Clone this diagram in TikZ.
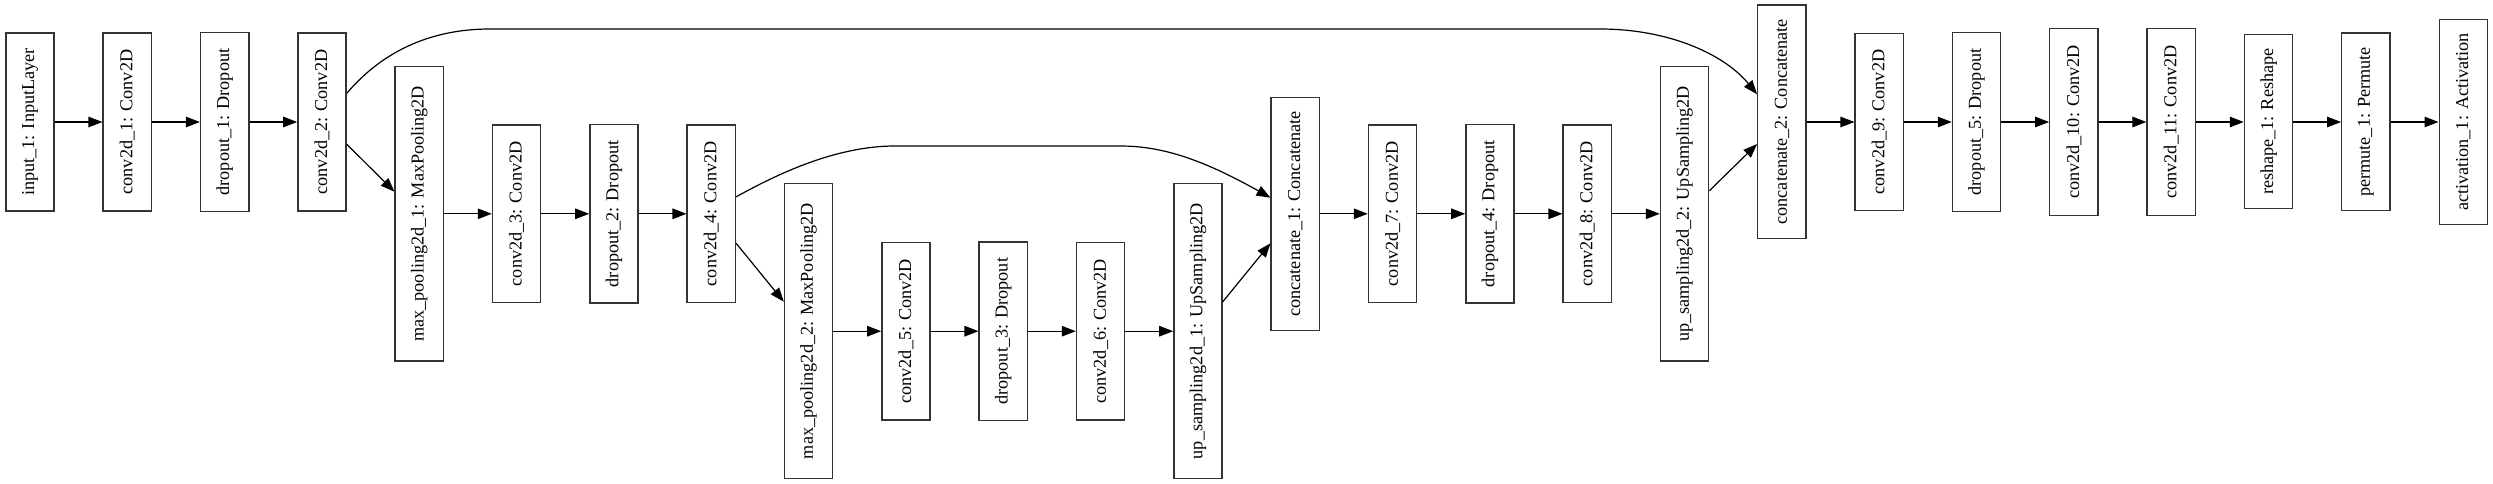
\documentclass[tikz,border=0pt]{standalone}
\usepackage{fontspec}
\setmainfont{Liberation Serif}
\usepackage{graphicx}
\usetikzlibrary{arrows.meta,calc}
\definecolor{boxc}{HTML}{333333}
\begin{document}
\begin{tikzpicture}[x=1pt,y=-1pt,
  layer/.style={draw=boxc, line width=1.35pt, minimum width=48.3pt, inner sep=0pt,
    font=\fontsize{18.2}{20}\selectfont, fill=white},
  conn/.style={draw=black, line width=1.2pt, -{Triangle[length=14pt,width=10.5pt]}}]
\fill[white] (0,0) rectangle (2493,484);
\useasboundingbox (0,0) rectangle (2493,484);
% row 1
\node[layer, minimum height=177.7pt] (in)   at (30,122)     {\rotatebox{90}{input\_1: InputLayer}};
\node[layer, minimum height=178pt]   (c1)   at (127.3,122)  {\rotatebox{90}{conv2d\_1: Conv2D}};
\node[layer, minimum height=178.6pt] (d1)   at (224.7,122)  {\rotatebox{90}{dropout\_1: Dropout}};
\node[layer, minimum height=178pt]   (c2)   at (322,122)    {\rotatebox{90}{conv2d\_2: Conv2D}};
% row 2
\node[layer, minimum height=294.3pt] (mp1)  at (419.3,213.8) {\rotatebox{90}{max\_pooling2d\_1: MaxPooling2D}};
\node[layer, minimum height=177.7pt] (c3)   at (516.6,213.8) {\rotatebox{90}{conv2d\_3: Conv2D}};
\node[layer, minimum height=178.3pt] (d2)   at (614,213.8)   {\rotatebox{90}{dropout\_2: Dropout}};
\node[layer, minimum height=177.7pt] (c4)   at (711.3,213.8) {\rotatebox{90}{conv2d\_4: Conv2D}};
% row 3
\node[layer, minimum height=295pt]   (mp2)  at (808.6,331.2) {\rotatebox{90}{max\_pooling2d\_2: MaxPooling2D}};
\node[layer, minimum height=177.7pt] (c5)   at (906,331.2)   {\rotatebox{90}{conv2d\_5: Conv2D}};
\node[layer, minimum height=178.7pt] (d3)   at (1003.3,331.2) {\rotatebox{90}{dropout\_3: Dropout}};
\node[layer, minimum height=177.7pt] (c6)   at (1100.6,331.2) {\rotatebox{90}{conv2d\_6: Conv2D}};
\node[layer, minimum height=295pt]   (up1)  at (1198,331.2)  {\rotatebox{90}{up\_sampling2d\_1: UpSampling2D}};
% row 2 again
\node[layer, minimum height=233.4pt] (cat1) at (1295.3,214)  {\rotatebox{90}{concatenate\_1: Concatenate}};
\node[layer, minimum height=177.7pt] (c7)   at (1392.6,213.8) {\rotatebox{90}{conv2d\_7: Conv2D}};
\node[layer, minimum height=178.3pt] (d4)   at (1490,213.8)  {\rotatebox{90}{dropout\_4: Dropout}};
\node[layer, minimum height=177.7pt] (c8)   at (1587.3,213.8) {\rotatebox{90}{conv2d\_8: Conv2D}};
\node[layer, minimum height=294.3pt] (up2)  at (1684.6,213.8) {\rotatebox{90}{up\_sampling2d\_2: UpSampling2D}};
% row 1 again
\node[layer, minimum height=233.7pt] (cat2) at (1781.9,121.8) {\rotatebox{90}{concatenate\_2: Concatenate}};
\node[layer, minimum height=177.4pt] (c9)   at (1879.3,122)  {\rotatebox{90}{conv2d\_9: Conv2D}};
\node[layer, minimum height=178.6pt] (d5)   at (1976.6,122)  {\rotatebox{90}{dropout\_5: Dropout}};
\node[layer, minimum height=186.6pt] (c10)  at (2073.9,122)  {\rotatebox{90}{conv2d\_10: Conv2D}};
\node[layer, minimum height=186.6pt] (c11)  at (2171.2,122)  {\rotatebox{90}{conv2d\_11: Conv2D}};
\node[layer, minimum height=174pt]   (rs)   at (2268.6,121.7) {\rotatebox{90}{reshape\_1: Reshape}};
\node[layer, minimum height=177.7pt] (pm)   at (2365.9,121.9) {\rotatebox{90}{permute\_1: Permute}};
\node[layer, minimum height=205.4pt] (act)  at (2463.3,122)  {\rotatebox{90}{activation\_1: Activation}};
% straight connectors
\draw[conn] (in.east) -- (c1.west);
\draw[conn] (c1.east) -- (d1.west);
\draw[conn] (d1.east) -- (c2.west);
\draw[conn] ([yshift=-22.3pt]c2.east) -- ([yshift=22.1pt]mp1.west);
\draw[conn] (mp1.east) -- (c3.west);
\draw[conn] (c3.east) -- (d2.west);
\draw[conn] (d2.east) -- (c4.west);
\draw[conn] ([yshift=-29.5pt]c4.east) -- ([yshift=29.5pt]mp2.west);
\draw[conn] (mp2.east) -- (c5.west);
\draw[conn] (c5.east) -- (d3.west);
\draw[conn] (d3.east) -- (c6.west);
\draw[conn] (c6.east) -- (up1.west);
\draw[conn] ([yshift=29.5pt]up1.east) -- ([yshift=-29.3pt]cat1.west);
\draw[conn] ([yshift=0.2pt]cat1.east) -- (c7.west);
\draw[conn] (c7.east) -- (d4.west);
\draw[conn] (d4.east) -- (c8.west);
\draw[conn] (c8.east) -- (up2.west);
\draw[conn] ([yshift=23.1pt]up2.east) -- ([yshift=-22.2pt]cat2.west);
\draw[conn] ([yshift=-0.2pt]cat2.east) -- (c9.west);
\draw[conn] (c9.east) -- (d5.west);
\draw[conn] (d5.east) -- (c10.west);
\draw[conn] (c10.east) -- (c11.west);
\draw[conn] (c11.east) -- ([yshift=-0.3pt]rs.west);
\draw[conn] ([yshift=-0.3pt]rs.east) -- ([yshift=-0.1pt]pm.west);
\draw[conn] ([yshift=-0.1pt]pm.east) -- (act.west);
% skip connections
\draw[conn] ([yshift=28.7pt]c2.east) .. controls (375,60) and (420,29) .. (490,29)
  -- (1600,29) .. controls (1670,29) and (1725,55) .. ([yshift=27.5pt]cat2.west);
\draw[conn] ([yshift=17pt]c4.east) .. controls (767,180) and (830,146) .. (895,146)
  -- (1120,146) .. controls (1160,146) and (1200,158) .. ([yshift=16.3pt]cat1.west);
\end{tikzpicture}
\end{document}
